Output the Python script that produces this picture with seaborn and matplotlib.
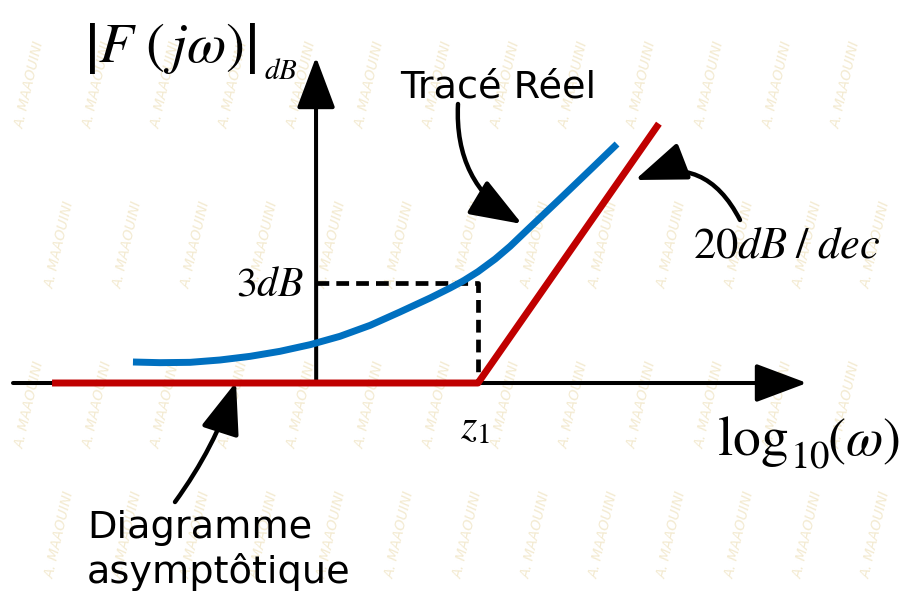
import matplotlib
matplotlib.use("Agg")
import matplotlib.pyplot as plt
import seaborn as sns
import pandas as pd

# Bode magnitude of a first-order zero: x in decades relative to z1, y in dB
real_logw = [-0.742, -0.684, -0.619, -0.555, -0.490, -0.426, -0.361, -0.297,
             -0.232, -0.168, -0.103, -0.060, -0.032, 0.0, 0.037, 0.069,
             0.105, 0.176, 0.247, 0.299]
real_db = [0.63, 0.61, 0.62, 0.69, 0.80, 0.95, 1.15, 1.40,
           1.73, 2.13, 2.55, 2.85, 3.06, 3.34, 3.72, 4.10,
           4.58, 5.52, 6.47, 7.17]

asym_logw = [-0.916, 0.0, 0.389]
asym_db = [0.0, 0.0, 7.78]

guide_logw = [-0.348, 0.0, 0.0]
guide_db = [3.0, 3.0, 0.0]

corner_db = 3
slope_db_per_dec = 20

W, H, DPI = 909, 593, 100
X0, SX = 478.0, 465.0        # pixel column of z1, pixels per decade
Y0, SY = 383.0, 100.0 / 3.0  # pixel row of 0 dB, pixels per dB


def px(x, y):
    """Canvas pixel position (top-left origin) -> data coordinates."""
    return ((x - X0) / SX, (Y0 - y) / SY)


sns.set_theme(style="white")
plt.rcParams["mathtext.fontset"] = "stix"
plt.rcParams["font.family"] = ["DejaVu Sans"]

fig = plt.figure(figsize=(W / DPI, H / DPI), dpi=DPI)
ax = fig.add_axes([0, 0, 1, 1])

# faint tiled author mark
for r, wy in enumerate([85, 245, 405, 535]):
    for c in range(13):
        wx = 30 + c * 68 + (r % 2) * 30
        if wx > 885:
            continue
        ax.text(*px(wx, wy), "A. MAAOUINI", rotation=77, fontsize=10,
                color="#f3ead0", ha="center", va="center", zorder=0,
                fontstyle="italic")

y_axis_x = guide_logw[0]


def arrow(start, tip, lw=2.9, rad=0.0, hl=3.2, hw=1.2):
    ax.annotate("", xy=tip, xytext=start,
                arrowprops=dict(arrowstyle=f"-|>,head_length={hl},head_width={hw}",
                                color="black", lw=lw, shrinkA=0, shrinkB=0,
                                mutation_scale=10,
                                connectionstyle=f"arc3,rad={rad}"),
                zorder=3)


# axes with arrow heads
arrow(px(13, Y0), px(807, Y0))
arrow((y_axis_x, 0.0), px(316, 57))

# dashed guide to the -3 dB point
ax.plot(guide_logw, guide_db, color="black", lw=3.4, dashes=(2.7, 1.5),
        solid_capstyle="butt", zorder=4)

# asymptotic diagram and real trace
asym = pd.DataFrame({"logw": asym_logw, "db": asym_db})
real = pd.DataFrame({"logw": real_logw, "db": real_db})
sns.lineplot(data=asym, x="logw", y="db", sort=False, color="#C00000",
             lw=5.0, ax=ax, zorder=5, estimator=None)
sns.lineplot(data=real, x="logw", y="db", sort=False, color="#0070C0",
             lw=5.0, ax=ax, zorder=5, estimator=None)
for ln in ax.lines[-2:]:
    ln.set_solid_capstyle("butt")
    ln.set_solid_joinstyle("round")
if ax.get_legend():
    ax.get_legend().remove()

ax.set_xlim(px(0, 0)[0], px(W, 0)[0])
ax.set_ylim(px(0, H)[1], px(0, 0)[1])
ax.axis("off")

# labels
ax.text(*px(84, 62), r"$\left|F\;(\,j\omega)\right|$", fontsize=41,
        ha="left", va="baseline", color="black")
ax.text(*px(264, 79), r"$dB$", fontsize=21, ha="left", va="baseline",
        color="black")
ax.text(y_axis_x - 0.025, corner_db, f"${corner_db}dB$", fontsize=30,
        ha="right", va="center", color="black")
ax.text(*px(460, 438), r"$z_1$", fontsize=30, ha="left", va="baseline",
        color="black")

ax.text(*px(717, 455), r"$\mathrm{log}$", fontsize=40, ha="left",
        va="baseline", color="black")
ax.text(*px(790, 468), r"$\mathrm{10}$", fontsize=28, ha="left",
        va="baseline", color="black")
ax.text(*px(827, 455), r"$(\omega)$", fontsize=39, ha="left",
        va="baseline", color="black")

ax.text(*px(693, 257), rf"${slope_db_per_dec}dB\;/\;dec$", fontsize=32,
        ha="left", va="baseline", color="black")

ax.text(*px(400, 98), "Tracé Réel", fontsize=27.5, ha="left", va="baseline",
        color="black")
ax.text(*px(87, 538), "Diagramme", fontsize=27.5, ha="left", va="baseline",
        color="black")
ax.text(*px(87, 583), "asymptôtique", fontsize=27.5, ha="left",
        va="baseline", color="black")

# callout arrows
arrow(px(458, 104), px(522, 224), lw=3.2, rad=0.3)
arrow(px(740, 220), px(635, 180), lw=3.2, rad=0.45)
arrow(px(175, 502), px(236, 382), lw=3.2, rad=0.08)

fig.savefig("out.png", dpi=DPI)
